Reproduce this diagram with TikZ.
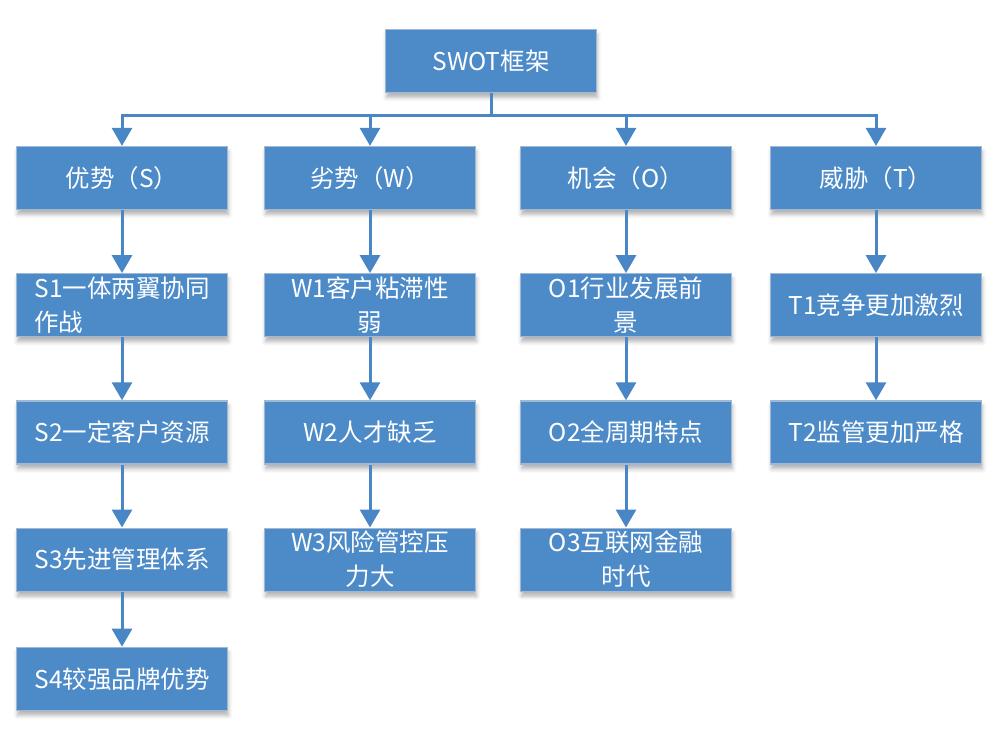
\documentclass[tikz,border=0pt]{standalone}
\usepackage{fontspec}
\setmainfont{Noto Sans CJK SC}
\usetikzlibrary{positioning,arrows.meta,shadows.blur}
\definecolor{boxblue}{RGB}{76,138,200}
\definecolor{rimblue}{RGB}{160,184,212}
\definecolor{linkblue}{RGB}{72,134,198}
\tikzset{
  box/.style={rectangle, draw=rimblue, line width=1.2pt, fill=boxblue, text=white,
    minimum width=211pt, minimum height=63pt, inner sep=2pt, align=center,
    font=\fontsize{24.5}{34}\selectfont,
    blur shadow={shadow xshift=1pt, shadow yshift=-5pt, shadow blur radius=4pt, shadow opacity=30}},
  link/.style={draw=linkblue, line width=3pt, -{Triangle[width=20pt,length=18pt]}}
}
\begin{document}
\begin{tikzpicture}[x=1pt, y=1pt, node distance=63pt]
    \useasboundingbox (0,0) rectangle (993,-735);
    % top of the tree
    \node[box] (swot) at (491,-61) {SWOT框架};
    % the four heads
    \node[box] (s) at (122,-178) {优势（S）};
    \node[box] (w) at (370,-178) {劣势（W）};
    \node[box] (o) at (626,-178) {机会（O）};
    \node[box] (t) at (876,-178) {威胁（T）};
    % strengths
    \node[box, below=of s, align=left] (s1) {S1一体两翼协同\\作战};
    \node[box, below=of s1] (s2) {S2一定客户资源};
    \node[box, below=of s2] (s3) {S3先进管理体系};
    \node[box, below=55pt of s3] (s4) {S4较强品牌优势};
    % weaknesses
    \node[box, below=of w] (w1) {W1客户粘滞性\\弱};
    \node[box, below=of w1] (w2) {W2人才缺乏};
    \node[box, below=of w2] (w3) {W3风险管控压\\力大};
    % opportunities
    \node[box, below=of o] (o1) {O1行业发展前\\景};
    \node[box, below=of o1] (o2) {O2全周期特点};
    \node[box, below=of o2] (o3) {O3互联网金融\\时代};
    % threats
    \node[box, below=of t] (t1) {T1竞争更加激烈};
    \node[box, below=of t1] (t2) {T2监管更加严格};
    % connectors
    \draw[draw=linkblue, line width=3pt] (swot.south) -- ++(0,-22) coordinate (hub);
    \foreach \h in {s,w,o,t}
      \draw[link] (hub) -| (\h.north);
    \foreach \a/\b in {s/s1,s1/s2,s2/s3,s3/s4,w/w1,w1/w2,w2/w3,o/o1,o1/o2,o2/o3,t/t1,t1/t2}
      \draw[link] (\a) -- (\b);
\end{tikzpicture}
\end{document}
